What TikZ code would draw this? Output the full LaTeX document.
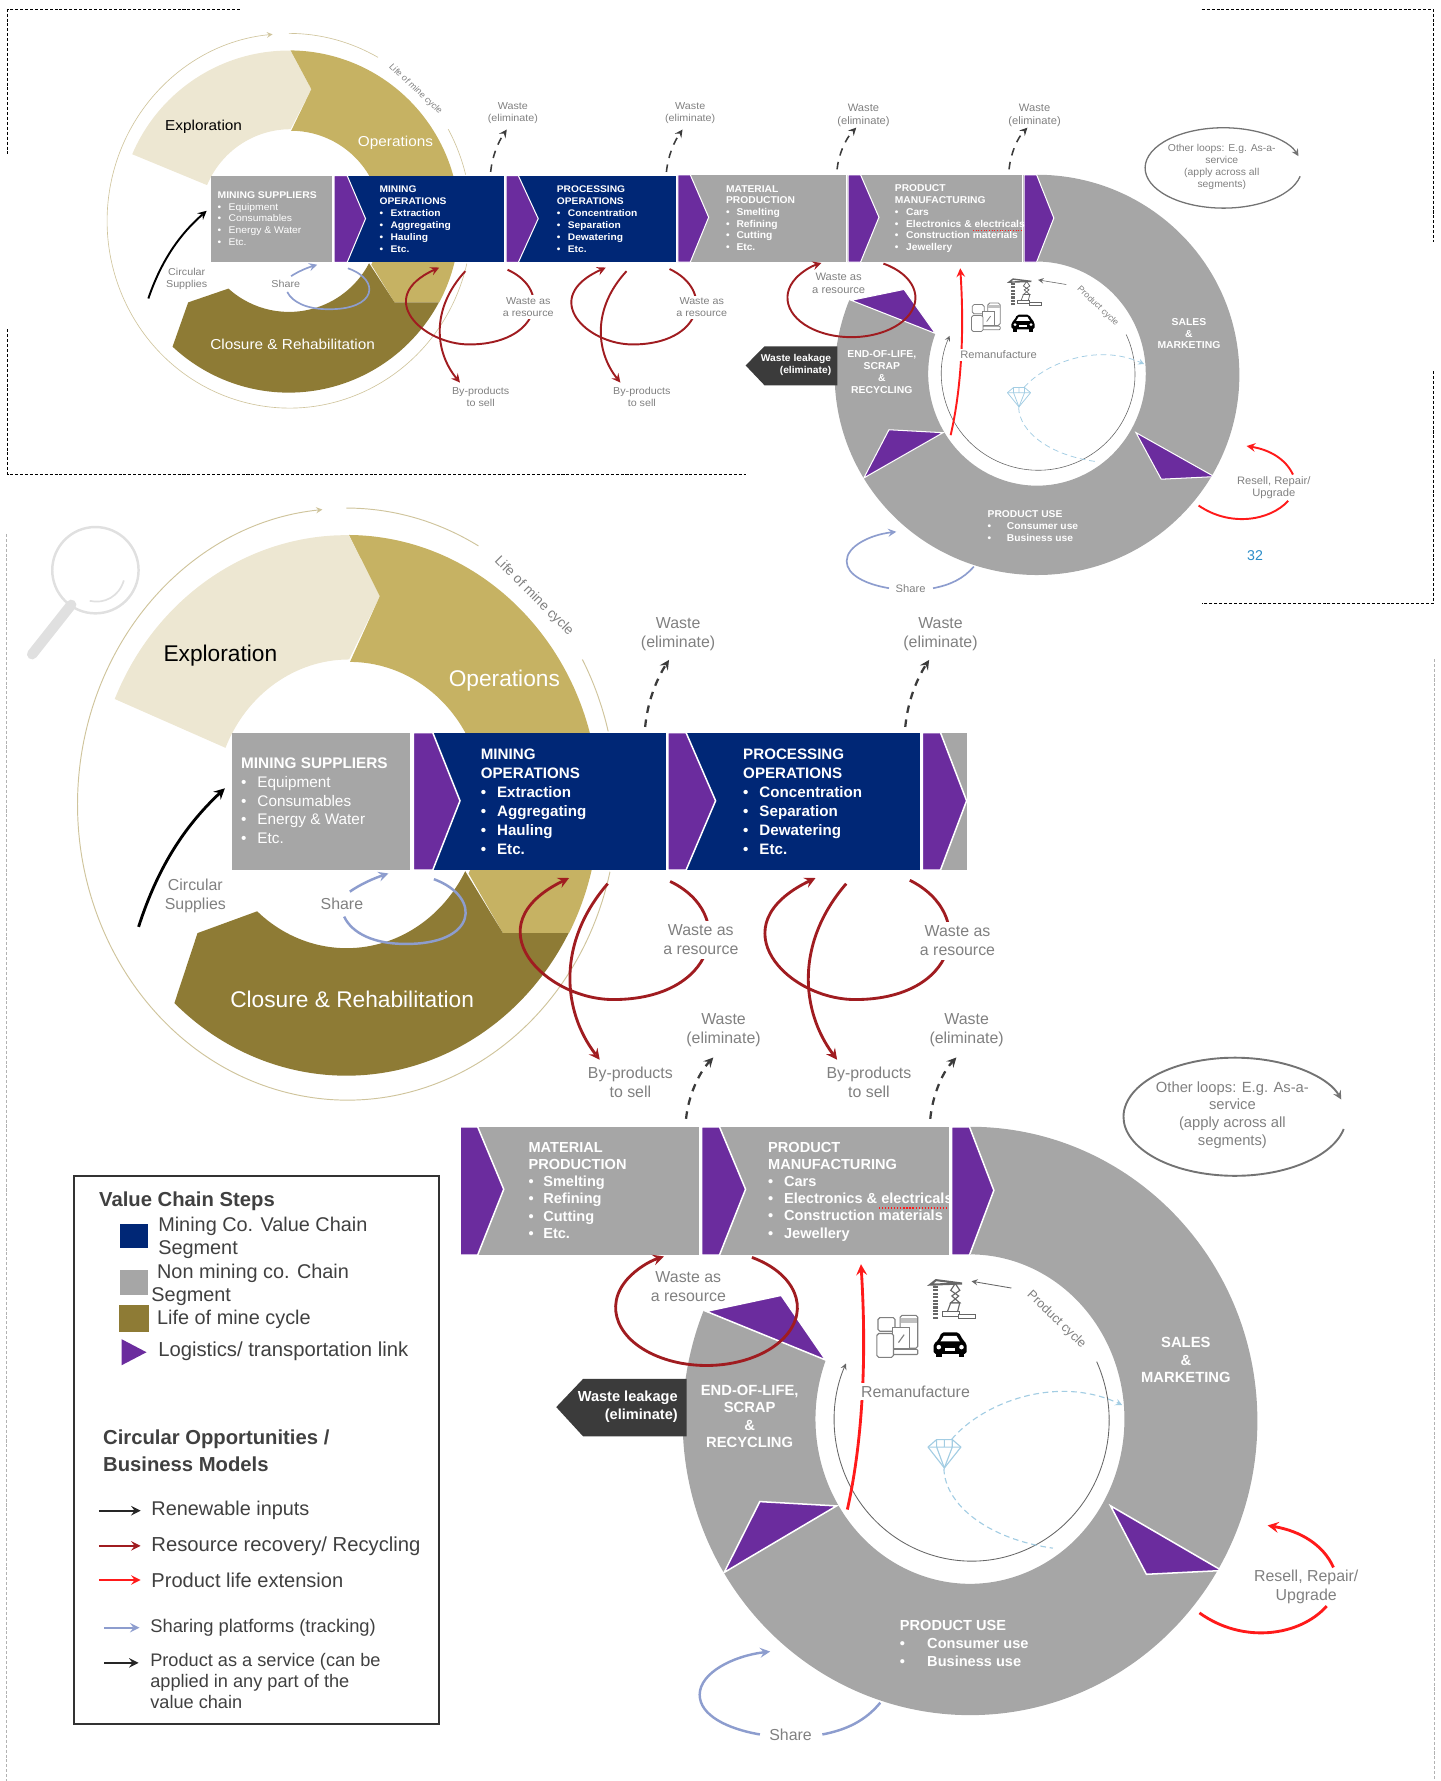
\documentclass[tikz,border=0pt]{standalone}
\usepackage{fontspec}
\setmainfont{Liberation Sans}

\definecolor{chainBlue}{HTML}{002776}
\definecolor{chainGrey}{HTML}{A6A6A6}
\definecolor{chainPurple}{HTML}{6B2C9E}
\definecolor{creamFill}{HTML}{EDE7D2}
\definecolor{goldFill}{HTML}{C6B263}
\definecolor{darkGold}{HTML}{8E7B35}
\definecolor{thinGold}{HTML}{CFC49C}
\definecolor{darkRed}{HTML}{A01C20}
\definecolor{brightRed}{HTML}{FF1A1A}
\definecolor{shareBlue}{HTML}{8D9DCE}
\definecolor{labelGrey}{HTML}{808080}
\definecolor{leakGrey}{HTML}{3B3B3B}
\definecolor{legendText}{HTML}{404040}
\definecolor{gemBlue}{HTML}{A3CDE3}
\definecolor{pageBlue}{HTML}{2A8CC8}

\newcommand{\lwf}{1}
\newcommand{\wn}{0}
\newcommand{\fs}[2]{\fontsize{#1}{#2}\selectfont}
\newcommand{\bul}[2][8.6pt]{\makebox[#1][l]{\textbullet}#2}

\tikzset{
  chevron/.style={fill=chainPurple, draw=white, line width=0.8pt*\lwf, line join=miter},
  stepText/.style={anchor=west, align=left, inner sep=0pt, text=white, transform shape},
  greyLabel/.style={align=center, inner sep=1pt, text=labelGrey, font=\fs{8.4}{10}, transform shape},
  whiteLabel/.style={greyLabel, fill=white, inner sep=2pt},
  ringLabel/.style={align=center, inner sep=0pt, text=white, font=\fs{7.8}{9.3}\bfseries, transform shape},
  wasteArrow/.style={-stealth, line width=1.2pt*\lwf, draw=leakGrey, dash pattern=on 4pt off 3.5pt},
  darkLoop/.style={line width=1.5pt*\lwf, draw=darkRed},
  lifeLoop/.style={line width=1.5pt*\lwf, draw=brightRed},
  shareLoop/.style={line width=1.3pt*\lwf, draw=shareBlue},
  thinCycle/.style={line width=0.5pt*\lwf, draw=thinGold},
  iconLine/.style={line width=0.6pt*\lwf, draw=labelGrey},
  gemLine/.style={line width=0.6pt*\lwf, draw=gemBlue},
  frameLine/.style={line width=0.5pt, dash pattern=on 1.6pt off 1pt},
  legendLabel/.style={anchor=west, align=left, inner sep=0pt, text=legendText, font=\fs{10.5}{12}},
  legendHead/.style={anchor=west, align=left, inner sep=0pt, text=legendText, font=\fs{10.7}{14.4}\bfseries},
  legendBox/.style={minimum width=14.6pt, minimum height=13pt, inner sep=0pt},
  legendArrow/.style={-stealth, line width=1.2pt}
}

\newcommand{\upperChain}{%
  % life of mine ring
  \fill[creamFill] (101,615.4) arc[start angle=-156.8, end angle=-89.5, x radius=222, y radius=238]
    -- (334.4,524.9) -- (307.3,580.6) arc[start angle=-90, end angle=-157.2, x radius=118, y radius=127] -- cycle;
  \fill[goldFill] (307.3,471) arc[start angle=-89.5, end angle=28.2, x radius=222, y radius=238]
    -- (442.8,821.5) -- (412.5,769) arc[start angle=27.8, end angle=-90, x radius=118, y radius=127]
    -- (334.4,524.9) -- cycle;
  \fill[darkGold] (500.6,821.5) arc[start angle=28.2, end angle=133, x radius=222, y radius=238]
    -- (173.9,821.5) -- (226.4,802.3) arc[start angle=131.9, end angle=27.8, x radius=118, y radius=127]
    -- (442.8,821.5) -- cycle;
  \draw[thinCycle, -stealth] (537,767.5) arc[start angle=13.2, end angle=264.7, x radius=237.5, y radius=260.5];
  \draw[thinCycle] (305,447.3) arc[start angle=-90, end angle=-60.7, x radius=237.5, y radius=260.5];
  \draw[thinCycle] (512.7,580.6) arc[start angle=-29, end angle=-14, x radius=237.5, y radius=260.5];
  \node[greyLabel, rotate=-45, font=\fs{7.2}{9}] (lifeCycle) at (470,525) {Life of mine cycle};
  \node[inner sep=0pt, text=black, font=\fs{12}{14}, transform shape] (exploration) at (194,577) {Exploration};
  \node[inner sep=0pt, text=white, font=\fs{12}{14}, transform shape] (operations) at (444,599) {Operations};
  \node[inner sep=0pt, text=white, font=\fs{12}{14}, transform shape] (closure) at (310,880) {Closure \& Rehabilitation};
  % first strip
  \fill[chainGrey] (204,645) rectangle (361,766);
  \fill[chainBlue] (364,645) rectangle (586,766);
  \fill[chainBlue] (588,645) rectangle (810,766);
  \fill[chainGrey] (812,645) rectangle (851,766);
  \filldraw[chevron] (364,645) -- (381,645) -- (405,705) -- (381,766) -- (364,766) -- cycle;
  \filldraw[chevron] (588,645) -- (604,645) -- (630,705) -- (604,766) -- (588,766) -- cycle;
  \filldraw[chevron] (812,645) -- (828,645) -- (851,705) -- (828,766) -- (812,766) -- cycle;
  \node[stepText, font=\fs{8.1}{9.9}] (minSuppliers) at (212,705)
    {\textbf{MINING SUPPLIERS}\\\bul{Equipment}\\\bul{Consumables}\\\bul{Energy \& Water}\\\bul{Etc.}};
  \node[stepText, font=\fs{8}{10.1}\bfseries] (minOperations) at (423,706)
    {MINING\\OPERATIONS\\\bul{Extraction}\\\bul{Aggregating}\\\bul{Hauling}\\\bul{Etc.}};
  \node[stepText, font=\fs{8}{10.1}\bfseries] (procOperations) at (654,706)
    {PROCESSING\\OPERATIONS\\\bul{Concentration}\\\bul{Separation}\\\bul{Dewatering}\\\bul{Etc.}};
  % waste arrows
  \node[greyLabel] (wasteA) at (597,558.5+\wn) {Waste\\(eliminate)};
  \node[greyLabel] (wasteB) at (828,558.5+\wn) {Waste\\(eliminate)};
  \coordinate (wasteAbase) at (568,640);
  \coordinate (wasteAtip) at (589,581);
  \coordinate (wasteBbase) at (797,640);
  \coordinate (wasteBtip) at (818,581);
  \draw[wasteArrow] (wasteAbase) .. controls (570,618) and (578,598) .. (wasteAtip);
  \draw[wasteArrow] (wasteBbase) .. controls (799,618) and (807,598) .. (wasteBtip);
  % circular supplies
  \node[greyLabel] (circSupplies) at (172,789) {Circular\\Supplies};
  \coordinate (supplyStart) at (122,816);
  \coordinate (supplyEnd) at (198,694);
  \draw[-stealth, line width=1.5pt*\lwf, black] (supplyStart) .. controls (140,760) and (165,725) .. (supplyEnd);
  % share loop
  \node[greyLabel] (shareA) at (301,796) {Share};
  \coordinate (shareAstart) at (382,774);
  \coordinate (shareAend) at (342,769);
  \draw[shareLoop] (shareAstart) .. controls (425,790) and (420,832) .. (356,831) .. controls (330,831) and (310,822) .. (303,807);
  \draw[shareLoop, -stealth] (308,785) .. controls (318,778) and (330,773) .. (shareAend);
  % resource loops
  \coordinate (loopAstart) at (590,776);
  \coordinate (loopAend) at (501,773);
  \coordinate (loopBstart) at (801,775);
  \coordinate (loopBend) at (718,773);
  \coordinate (sellAstart) at (535,778);
  \coordinate (sellAend) at (528,933);
  \coordinate (sellBstart) at (745,778);
  \coordinate (sellBend) at (737,933);
  \node[greyLabel] (sellA) at (555,953) {By-products\\to sell};
  \node[greyLabel] (sellB) at (765,953) {By-products\\to sell};
  \draw[darkLoop, -stealth] (loopAstart) .. controls (650,805) and (630,880) .. (540,880) .. controls (480,880) and (415,815) .. (loopAend);
  \draw[darkLoop, -stealth] (loopBstart) .. controls (861,805) and (843,880) .. (753,880) .. controls (693,880) and (631,815) .. (loopBend);
  \draw[darkLoop, -stealth] (sellAstart) .. controls (490,830) and (495,890) .. (sellAend);
  \draw[darkLoop, -stealth] (sellBstart) .. controls (700,830) and (705,890) .. (sellBend);
  \node[whiteLabel] (resourceA) at (617,827.5) {Waste as\\a resource};
  \node[whiteLabel] (resourceB) at (843,828.5) {Waste as\\a resource};
}

\newcommand{\lowerChain}{%
  % product ring
  \fill[chainGrey] (854,992) arc[start angle=-90, end angle=202, x radius=253, y radius=259]
    -- (727,1197.4) arc[start angle=201, end angle=-90, x radius=136, y radius=145] -- cycle;
  % second strip
  \fill[chainGrey] (405,992) rectangle (615,1105);
  \fill[chainGrey] (617,992) rectangle (835.5,1105);
  \fill[chainGrey] (837,992) rectangle (855,1105);
  \filldraw[chevron] (405,992) -- (420.5,992) -- (443.5,1047) -- (420.5,1105) -- (405,1105) -- cycle;
  \filldraw[chevron] (617.7,992) -- (633.4,992) -- (656.4,1047) -- (633.4,1105) -- (617.7,1105) -- cycle;
  \filldraw[chevron] (837.8,992) -- (853.5,992) -- (875,1048) -- (853.5,1105) -- (837.8,1105) -- cycle;
  \filldraw[chevron] (621.8,1154.5) -- (687.8,1140.4) -- (727,1197.4) -- cycle;
  \filldraw[chevron] (668.9,1322) -- (736.5,1325.8) -- (637.5,1384.4) -- cycle;
  \filldraw[chevron] (977.7,1325.7) -- (1075.7,1382.7) -- (1009.3,1386) -- cycle;
  \node[stepText, font=\fs{7.7}{9.1}\bfseries] (matProduction) at (465,1048)
    {MATERIAL\\PRODUCTION\\\bul[7.8pt]{Smelting}\\\bul[7.8pt]{Refining}\\\bul[7.8pt]{Cutting}\\\bul[7.8pt]{Etc.}};
  \node[stepText, font=\fs{7.7}{9.1}\bfseries] (prodManufacturing) at (676,1049)
    {PRODUCT\\MANUFACTURING\\\bul[8.4pt]{Cars}\\\bul[8.4pt]{Electronics \& electricals}\\\bul[8.4pt]{Construction materials}\\\bul[8.4pt]{Jewellery}};
  \draw[brightRed, line width=0.6pt*\lwf, densely dotted] (774,1063.5) -- (835,1063.5);
  \node[ringLabel] (salesMarketing) at (1044,1197.5) {SALES\\\&\\MARKETING};
  \node[ringLabel] (endOfLife) at (660,1247) {END-OF-LIFE,\\SCRAP\\\&\\RECYCLING};
  \node[stepText, font=\fs{7.7}{9.3}\bfseries] (productUse) at (792,1447)
    {PRODUCT USE\\\bul[14.4pt]{Consumer use}\\\bul[14.4pt]{Business use}};
  % waste leakage
  \fill[leakGrey] (489.7,1238.8) -- (513.3,1214) -- (604.5,1214) -- (604.5,1264.5) -- (513.3,1264.5) -- cycle;
  \node[inner sep=0pt, align=right, anchor=east, text=white, font=\fs{7.7}{9.2}\bfseries, transform shape] (wasteLeak) at (597,1238.5) {Waste leakage\\(eliminate)};
  % waste arrows
  \node[greyLabel] (wasteC) at (637,907+\wn) {Waste\\(eliminate)};
  \node[greyLabel] (wasteD) at (851,907+\wn) {Waste\\(eliminate)};
  \coordinate (wasteCbase) at (604,985);
  \coordinate (wasteCtip) at (628,931);
  \coordinate (wasteDbase) at (819,985);
  \coordinate (wasteDtip) at (842,931);
  \draw[wasteArrow] (wasteCbase) .. controls (606,965) and (615,945) .. (wasteCtip);
  \draw[wasteArrow] (wasteDbase) .. controls (821,965) and (829,945) .. (wasteDtip);
  % other loops
  \node[greyLabel, inner sep=0pt, font=\fs{7.8}{9.3}] (otherLoops) at (1085,981.5) {Other loops: E.g. As-a-\\service\\(apply across all\\segments)};
  \draw[-stealth, line width=1pt*\lwf, draw=labelGrey!90!black] (1183,994) arc[start angle=12, end angle=343, x radius=98, y radius=52];
  % resource loop
  \node[greyLabel] (resourceC) at (606,1133) {Waste as\\a resource};
  \draw[darkLoop, -stealth] (662,1107) arc[start angle=-60, end angle=242, x radius=80, y radius=51];
  % product cycle
  \draw[line width=0.45pt*\lwf, draw=black!60, -stealth] (965.5,1198.8) arc[start angle=-24.6, end angle=203.8, x radius=121, y radius=124];
  \coordinate (cycleStart) at (890.5,1134);
  \coordinate (cycleEnd) at (855.3,1128);
  \draw[line width=0.45pt*\lwf, draw=black!60, -stealth] (cycleStart) -- (cycleEnd);
  \node[greyLabel, rotate=-44, font=\fs{6.7}{8}] (productCycle) at (930,1162) {Product cycle};
  % remanufacture
  \coordinate (remanStart) at (746,1329);
  \coordinate (remanEnd) at (758,1113);
  \draw[lifeLoop, -stealth] (remanStart) .. controls (757,1280) and (764,1210) .. (remanEnd);
  \node[whiteLabel, inner sep=1.5pt] (remanufacture) at (806,1225) {Remanufacture};
  % gem trail
  \coordinate (gemTop) at (838,1267);
  \coordinate (gemTarget) at (988,1237);
  \coordinate (gemFoot) at (831,1293);
  \coordinate (gemTail) at (927,1363);
  \draw[gemLine, densely dashed, -stealth] (gemTop) .. controls (865,1235) and (930,1210) .. (gemTarget);
  \draw[gemLine, densely dashed] (gemFoot) .. controls (832,1325) and (870,1355) .. (gemTail);
  \draw[gemLine, line join=round] (817,1274) -- (824.6,1267.4) -- (838.4,1267.4) -- (846,1274) -- (831.4,1292.4) -- cycle;
  \draw[gemLine] (817,1274) -- (846,1274) (824.6,1274) -- (831.4,1292.4) -- (838.4,1274) (824.6,1267.4) -- (824.6,1274) (831.4,1267.4) -- (831.4,1274) (838.4,1267.4) -- (838.4,1274);
  % devices
  \draw[iconLine, rounded corners=1pt, fill=white] (773,1160) rectangle (788,1172);
  \draw[iconLine, rounded corners=1pt, fill=white] (792.5,1158) rectangle (808,1187);
  \fill[labelGrey!50] (793,1160) rectangle (807.5,1165);
  \draw[iconLine, fill=white] (786,1169) rectangle (801,1187);
  \draw[iconLine, fill=white, rounded corners=0.5pt] (786,1188) rectangle (808,1192.5);
  \draw[iconLine, rounded corners=1pt, fill=white] (772,1174) rectangle (786.6,1195);
  \draw[iconLine] (791,1182) -- (796,1175);
  % crane
  \draw[iconLine, draw=black!60, line width=2.6pt*\lwf, dash pattern=on 1.1pt off 0.7pt] (824,1161) -- (824,1131);
  \draw[iconLine, draw=black!60, line width=1.1pt*\lwf] (819,1131) -- (824,1127) -- (847,1130) -- cycle;
  \draw[iconLine, draw=black!60] (841,1130) -- (837,1136) -- (844,1141) -- (837,1147) -- (845,1147) -- (838,1141) -- (845,1136) -- cycle;
  \draw[iconLine, draw=black!60, fill=white] (830,1155) rectangle (845,1159);
  \draw[iconLine, draw=black!60, fill=white] (844,1157) rectangle (859,1161);
  \draw[iconLine, draw=black!60] (834,1155) -- (837,1147) -- (845,1147) -- (843,1155);
  % car
  \fill[black, rounded corners=1pt] (822,1192) -- (822,1183) -- (826,1180) -- (829,1173) -- (844,1173) -- (848,1180) -- (851,1183) -- (851,1192) -- cycle;
  \fill[white] (831,1176) -- (842,1176) -- (845,1181) -- (828,1181) -- cycle;
  \fill[black] (824,1191) rectangle (829,1195);
  \fill[black] (844,1191) rectangle (849,1195);
  \fill[white] (826.5,1186) circle[radius=2];
  \fill[white] (846.5,1186) circle[radius=2];
  \fill[white] (832,1187) rectangle (841,1189);
  % resell
  \node[greyLabel] (resell) at (1150,1397) {Resell, Repair/\\Upgrade};
  \coordinate (resellStart) at (1056,1420);
  \coordinate (resellGapA) at (1168,1414);
  \coordinate (resellGapB) at (1174,1380);
  \coordinate (resellEnd) at (1116,1343);
  \draw[lifeLoop] (resellStart) .. controls (1095,1448) and (1145,1440) .. (resellGapA);
  \draw[lifeLoop, -stealth] (resellGapB) .. controls (1165,1360) and (1145,1348) .. (resellEnd);
  % share loop
  \node[greyLabel] (shareB) at (696,1527) {Share};
  \coordinate (shareBstart) at (775,1499);
  \coordinate (shareBgapA) at (724,1527);
  \coordinate (shareBgapB) at (669,1527);
  \coordinate (shareBend) at (678,1454);
  \draw[shareLoop] (shareBstart) .. controls (762,1515) and (745,1523) .. (shareBgapA);
  \draw[shareLoop, -stealth] (shareBgapB) .. controls (640,1522) and (616,1510) .. (616,1492) .. controls (616,1473) and (645,1458) .. (shareBend);
}

\begin{document}
\begin{tikzpicture}[x=0.6pt, y=-0.6pt]
  \useasboundingbox (0,0) rectangle (1268,1568);
  % reduced view
  \begin{scope}[shift={(48.16,-253.7)}, xscale=0.6757, yscale=0.6329, transform shape, name prefix=top-]
    \renewcommand{\lwf}{0.68}
    \upperChain
  \end{scope}
  \begin{scope}[shift={(311.6,-521)}, xscale=0.7042, yscale=0.6803, transform shape, name prefix=top-]
    \renewcommand{\lwf}{0.68}
    \renewcommand{\wn}{8}
    \lowerChain
  \end{scope}
  \node[inner sep=0pt, text=pageBlue, font=\fs{7.5}{9}] (pageNumber) at (1105,489.5) {32};
  \draw[frameLine] (211,8) -- (7,8) -- (7,137);
  \draw[frameLine] (7,290) -- (7,418) -- (657,418);
  \draw[frameLine] (1058,8) -- (1262,8) -- (1262,213);
  \draw[frameLine] (1262,327) -- (1262,531) -- (1058,531);
  % full view
  \draw[frameLine, line width=0.4pt, black!30] (6,470) -- (6,1568);
  \draw[frameLine, line width=0.4pt, black!30] (1263,580) -- (1263,1568);
  \draw[line width=1.3pt, black!12] (84,502) circle[x radius=38, y radius=38];
  \draw[line width=0.9pt, black!12] (79,529) .. controls (92,532) and (105,525) .. (109,511);
  \draw[line width=5.5pt, black!12, line cap=round] (62.7,532.5) -- (28.3,576);
  \upperChain
  \lowerChain
  % legend
  \draw[line width=1pt, black!80] (65.5,1035.5) rectangle (386.8,1518);
  \node[legendHead] (lgSteps) at (87,1058) {Value Chain Steps};
  \node[legendBox, fill=chainBlue] (lgBlue) at (118,1088) {};
  \node[legendBox, fill=chainGrey] (lgGrey) at (118,1129) {};
  \node[legendBox, fill=darkGold, minimum width=16pt, minimum height=14.5pt] (lgGold) at (118,1161) {};
  \fill[chainPurple] (107,1179) -- (129,1190.5) -- (107,1202) -- cycle;
  \node[legendLabel] (lgMining) at (139,1089.5) {Mining Co. Value Chain\\Segment};
  \node[legendLabel] (lgNonMining) at (133,1131) {\hspace{3pt}Non mining co. Chain\\Segment};
  \node[legendLabel] (lgLife) at (138,1161.5) {Life of mine cycle};
  \node[legendLabel, font=\fs{10.7}{12}] (lgLogistics) at (139,1189.5) {Logistics/ transportation link};
  \node[legendHead] (lgCircular) at (90.5,1277) {Circular Opportunities /\\Business Models};
  \node[legendLabel] (lgRenewable) at (133,1330) {Renewable inputs};
  \node[legendLabel, font=\fs{10.7}{12}] (lgRecovery) at (133,1361) {Resource recovery/ Recycling};
  \node[legendLabel, font=\fs{10.6}{12}] (lgExtension) at (133,1391) {Product life extension};
  \node[legendLabel, font=\fs{9.7}{12}] (lgSharing) at (132,1433) {Sharing platforms (tracking)};
  \node[legendLabel, font=\fs{9.6}{11}] (lgService) at (132,1480) {Product as a service (can be\\applied in any part of the\\value chain};
  \coordinate (lgRenewStart) at (87,1330);
  \coordinate (lgRecoverStart) at (87,1361);
  \coordinate (lgExtendStart) at (87,1391);
  \coordinate (lgShareStart) at (92,1433);
  \coordinate (lgServiceStart) at (92,1464);
  \draw[legendArrow, draw=black!85, shorten >=5.5pt] (lgRenewStart) -- (lgRenewable.west);
  \draw[legendArrow, draw=darkRed, shorten >=5.5pt] (lgRecoverStart) -- (lgRecovery.west);
  \draw[legendArrow, draw=brightRed, shorten >=5.5pt] (lgExtendStart) -- (lgExtension.west);
  \draw[legendArrow, draw=shareBlue, shorten >=5.5pt] (lgShareStart) -- (lgSharing.west);
  \draw[legendArrow, draw=black!85, shorten >=6pt] (lgServiceStart) -- (lgServiceStart -| lgService.west);
\end{tikzpicture}
\end{document}
